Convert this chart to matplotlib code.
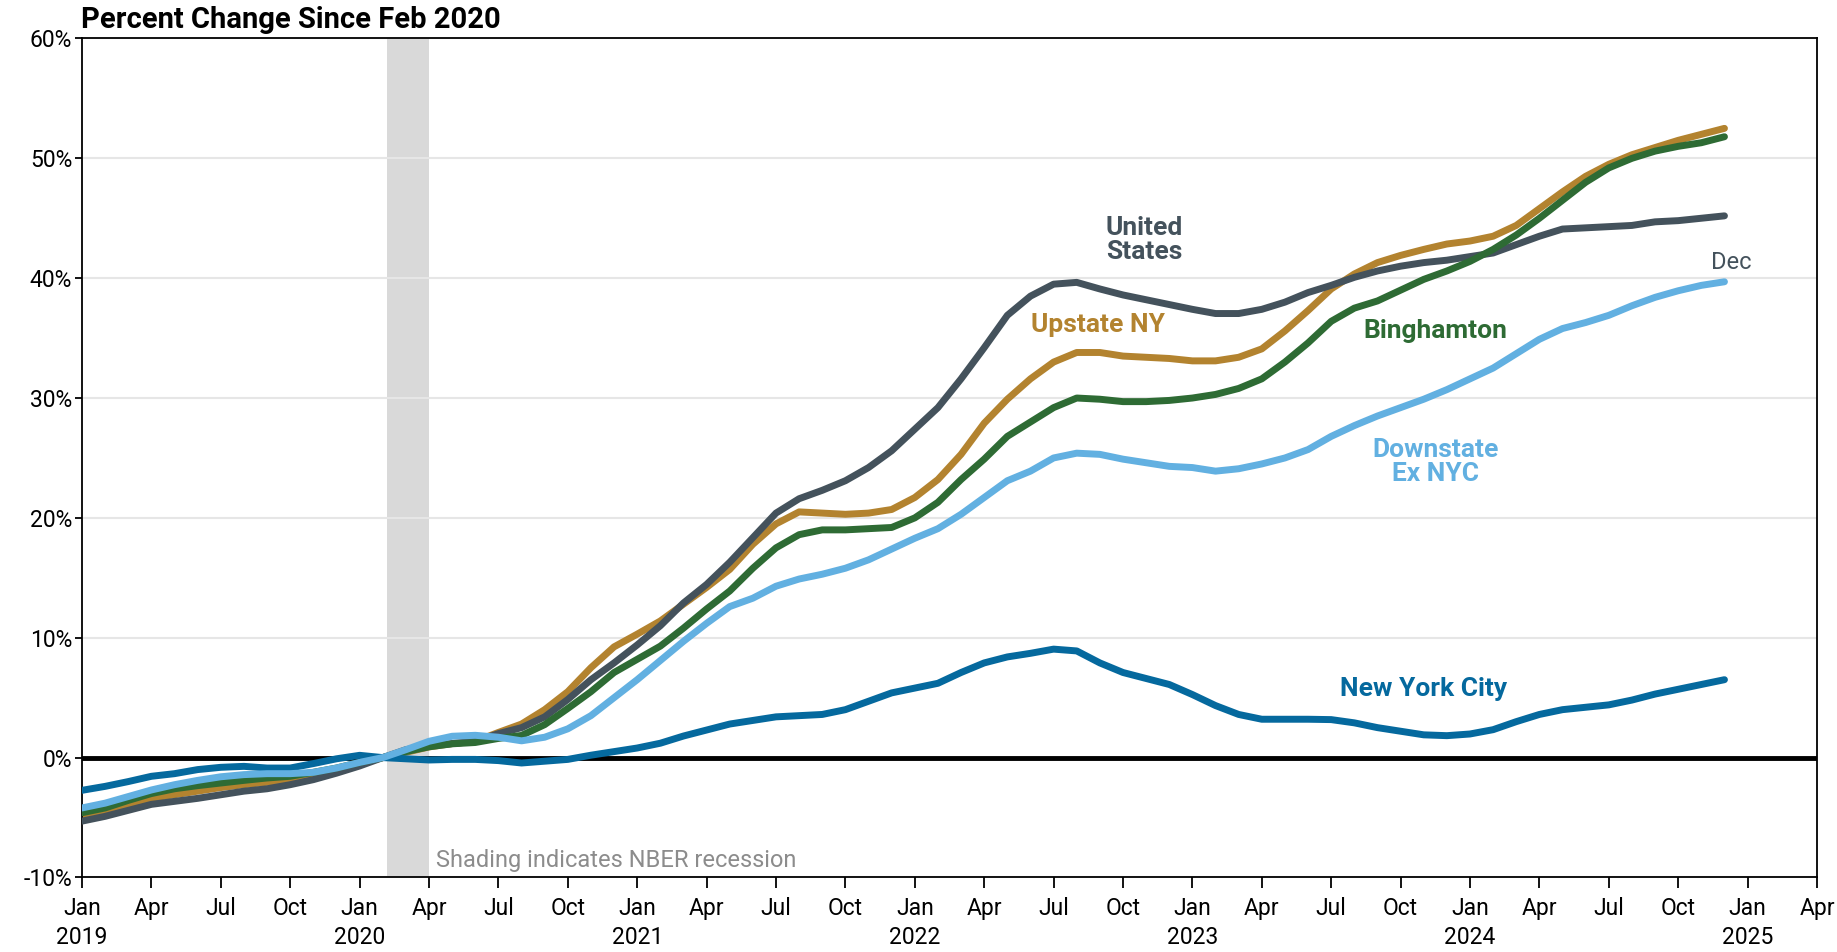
import numpy as np
import matplotlib.pyplot as plt

plt.rcParams['font.family'] = ['Roboto', 'DejaVu Sans']

# monthly, Jan 2019 .. Dec 2024, % change since Feb 2020
months = np.arange(72)

us = [-5.3, -4.9, -4.4, -3.9, -3.65, -3.4, -3.1, -2.8, -2.6, -2.26, -1.84, -1.3,
      -0.7, 0.0, 0.66, 1.0, 1.17, 1.36, 2.0, 2.5, 3.4, 4.85, 6.5, 7.9,
      9.4, 11.0, 12.9, 14.45, 16.3, 18.35, 20.4, 21.6, 22.3, 23.1, 24.2, 25.6,
      27.4, 29.2, 31.6, 34.2, 36.9, 38.5, 39.5, 39.65, 39.1, 38.6, 38.2, 37.8,
      37.4, 37.05, 37.05, 37.4, 38.0, 38.8, 39.4, 40.07, 40.6, 41.0, 41.3, 41.5,
      41.8, 42.1, 42.8, 43.5, 44.1, 44.2, 44.3, 44.4, 44.7, 44.8, 45.0, 45.2]

upstate = [-4.85, -4.5, -3.9, -3.4, -3.1, -2.8, -2.5, -2.26, -2.06, -1.84, -1.42, -1.0,
           -0.5, 0.0, 0.44, 0.89, 1.17, 1.36, 2.1, 2.8, 4.0, 5.5, 7.5, 9.24,
           10.3, 11.4, 12.8, 14.2, 15.7, 17.8, 19.5, 20.5, 20.4, 20.3, 20.4, 20.7,
           21.7, 23.2, 25.3, 27.9, 29.9, 31.6, 33.0, 33.8, 33.8, 33.5, 33.4, 33.3,
           33.1, 33.1, 33.4, 34.1, 35.6, 37.3, 39.1, 40.35, 41.3, 41.9, 42.4, 42.85,
           43.1, 43.5, 44.4, 45.8, 47.2, 48.5, 49.5, 50.3, 50.9, 51.5, 52.0, 52.5]

binghamton = [-4.6, -4.2, -3.57, -3.0, -2.6, -2.34, -2.12, -1.9, -1.7, -1.56, -1.23, -0.87,
              -0.4, 0.0, 0.5, 0.9, 1.15, 1.26, 1.6, 1.85, 2.75, 4.1, 5.5, 7.1,
              8.2, 9.3, 10.8, 12.4, 13.9, 15.8, 17.5, 18.6, 19.0, 19.0, 19.1, 19.2,
              20.0, 21.3, 23.2, 24.9, 26.8, 28.0, 29.2, 30.0, 29.9, 29.7, 29.7, 29.8,
              30.0, 30.3, 30.8, 31.6, 33.0, 34.6, 36.4, 37.5, 38.1, 39.0, 39.9, 40.6,
              41.4, 42.4, 43.6, 45.0, 46.5, 48.0, 49.2, 50.0, 50.6, 51.0, 51.3, 51.8]

downstate = [-4.2, -3.8, -3.25, -2.7, -2.26, -1.9, -1.6, -1.42, -1.34, -1.34, -1.23, -0.87,
             -0.4, 0.0, 0.66, 1.36, 1.78, 1.86, 1.7, 1.4, 1.7, 2.4, 3.5, 5.0,
             6.5, 8.1, 9.7, 11.2, 12.6, 13.3, 14.3, 14.9, 15.3, 15.8, 16.5, 17.4,
             18.3, 19.1, 20.3, 21.7, 23.1, 23.9, 25.0, 25.4, 25.3, 24.9, 24.6, 24.3,
             24.2, 23.9, 24.1, 24.5, 25.0, 25.7, 26.8, 27.7, 28.5, 29.2, 29.9, 30.7,
             31.6, 32.5, 33.7, 34.9, 35.8, 36.3, 36.9, 37.7, 38.4, 38.95, 39.4, 39.7]

nyc = [-2.73, -2.4, -2.0, -1.56, -1.34, -1.0, -0.81, -0.73, -0.87, -0.87, -0.5, -0.1,
       0.19, 0.0, -0.1, -0.2, -0.15, -0.15, -0.25, -0.45, -0.3, -0.15, 0.2, 0.5,
       0.8, 1.2, 1.8, 2.3, 2.8, 3.1, 3.4, 3.5, 3.6, 4.0, 4.7, 5.4,
       5.8, 6.2, 7.1, 7.9, 8.4, 8.7, 9.05, 8.9, 7.9, 7.1, 6.6, 6.1,
       5.26, 4.34, 3.6, 3.2, 3.2, 3.2, 3.17, 2.9, 2.5, 2.2, 1.9, 1.83,
       1.97, 2.33, 3.0, 3.6, 4.0, 4.2, 4.4, 4.8, 5.3, 5.7, 6.1, 6.5]

c_us = '#44525c'
c_up = '#b3832f'
c_bing = '#2e6b34'
c_down = '#62b0e1'
c_nyc = '#05699e'

fig = plt.figure(figsize=(18.37, 9.52), dpi=100)
ax = fig.add_axes([0.04464, 0.0783, 0.98911 - 0.04464, 0.9596 - 0.0783])

# recession shading Feb-Apr 2020
ax.axvspan(13.2, 15.0, color='#d9d9d9', lw=0, zorder=0)

for v in range(-10, 61, 10):
    if v != 0:
        ax.axhline(v, color='#e6e6e6', lw=1.5, zorder=0.5)
ax.axhline(0, color='black', lw=3.5, zorder=1)

lw = 5.0
ax.plot(months, upstate, color=c_up, lw=lw, solid_capstyle='round', zorder=2)
ax.plot(months, us, color=c_us, lw=lw, solid_capstyle='round', zorder=3)
ax.plot(months, binghamton, color=c_bing, lw=lw, solid_capstyle='round', zorder=4)
ax.plot(months, nyc, color=c_nyc, lw=lw, solid_capstyle='round', zorder=5)
ax.plot(months, downstate, color=c_down, lw=lw, solid_capstyle='round', zorder=6)

ax.set_xlim(0, 75)
ax.set_ylim(-10, 60)

ticks = np.arange(0, 76, 3)
labels = []
mnames = ['Jan', 'Apr', 'Jul', 'Oct']
for t in ticks:
    name = mnames[(t % 12) // 3]
    if t % 12 == 0:
        labels.append(name + '\n' + str(2019 + t // 12))
    else:
        labels.append(name)
ax.set_xticks(ticks)
ax.set_xticklabels(labels, fontsize=16.5, linespacing=1.35)
ax.tick_params(axis='x', length=8, width=1.3, pad=6)

yt = np.arange(-10, 61, 10)
ax.set_yticks(yt)
ax.set_yticklabels([f'{v}%' for v in yt], fontsize=16.5)
ax.tick_params(axis='y', length=5, width=1.3, pad=2)

for s in ax.spines.values():
    s.set_linewidth(1.3)
    s.set_color('black')

fig.text(0.0441, 0.9706, 'Percent Change Since Feb 2020', fontsize=21, fontweight='bold',
         ha='left', va='baseline')

lab = dict(fontsize=19, fontweight='bold', ha='center', va='center')
ax.text(45.9, 43.2, 'United\nStates', color=c_us, linespacing=1.0, **lab)
ax.text(43.9, 36.1, 'Upstate NY', color=c_up, **lab)
ax.text(58.5, 35.6, 'Binghamton', color=c_bing, **lab)
ax.text(58.5, 24.7, 'Downstate\nEx NYC', color=c_down, linespacing=1.0, **lab)
ax.text(58.0, 5.7, 'New York City', color=c_nyc, **lab)
ax.text(71.3, 41.3, 'Dec', color=c_us, fontsize=17, ha='center', va='center')
ax.text(15.3, -8.6, 'Shading indicates NBER recession', color='#8c8c8c', fontsize=17,
        ha='left', va='center')

fig.savefig('out.png', dpi=100)
